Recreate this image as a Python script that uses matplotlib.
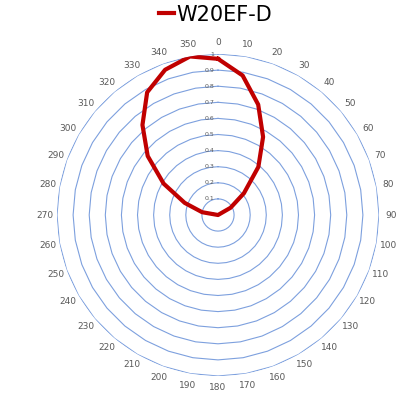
import numpy as np
import matplotlib.pyplot as plt
from matplotlib import transforms

# Categories: angle in degrees, every 10
angles_deg = list(range(0, 360, 10))
angle_labels = [str(a) for a in angles_deg]

# W20EF-D relative intensity
values = [0.97, 0.88, 0.73, 0.56, 0.39, 0.21, 0.09, 0, 0, 0,
          0, 0, 0, 0, 0, 0, 0, 0, 0, 0,
          0, 0, 0, 0, 0, 0, 0, 0, 0.10, 0.22,
          0.39, 0.57, 0.73, 0.88, 0.96, 1.0]

r_levels = [0.1, 0.2, 0.3, 0.4, 0.5, 0.6, 0.7, 0.8, 0.9, 1.0]
r_labels = ["0", "0.1", "0.2", "0.3", "0.4", "0.5", "0.6", "0.7", "0.8", "0.9", "1"]

series_name = "W20EF-D"
line_color = "#C00000"
grid_color = "#7DA0DE"
text_gray = "#595959"

fig = plt.figure(figsize=(4.2, 4.0), dpi=100)
# center at ~(218, 215) px, radius ~161 px
cx, cy, R = 218 / 420, 1 - 215 / 400, 161
w, h = 2 * R / 420, 2 * R / 400
ax = fig.add_axes([cx - w / 2, cy - h / 2, w, h], projection="polar")
ax.set_theta_zero_location("N")
ax.set_theta_direction(-1)
ax.set_ylim(0, 1)
ax.grid(False)
ax.spines["polar"].set_visible(False)
ax.set_yticks([])

theta = np.deg2rad(angles_deg)
theta_closed = np.append(theta, theta[0])

# polygon gridlines like the Excel radar chart
for r in r_levels:
    ax.plot(theta_closed, [r] * len(theta_closed), color=grid_color, lw=0.8, zorder=1)

# radial labels along the 0 direction
offs = transforms.offset_copy(ax.transData, fig=fig, x=-4, y=0, units="dots")
for r, lab in zip([0] + r_levels, r_labels):
    ax.text(0, r, lab, transform=offs, ha="right", va="center",
            fontsize=4.5, color=text_gray, zorder=2)

# category labels
ax.set_xticks(theta)
ax.set_xticklabels(angle_labels, fontsize=6.5, color=text_gray)
ax.tick_params(axis="x", pad=1.5, length=0)

vals_closed = values + [values[0]]
ax.plot(theta_closed, vals_closed, color=line_color, lw=3, label=series_name,
        zorder=3, solid_joinstyle="round")

fig.legend(loc="upper center", bbox_to_anchor=(0.513, 1.035), frameon=False,
           fontsize=15, handlelength=0.75, handletextpad=0.1)

fig.savefig("out.png", dpi=100)
